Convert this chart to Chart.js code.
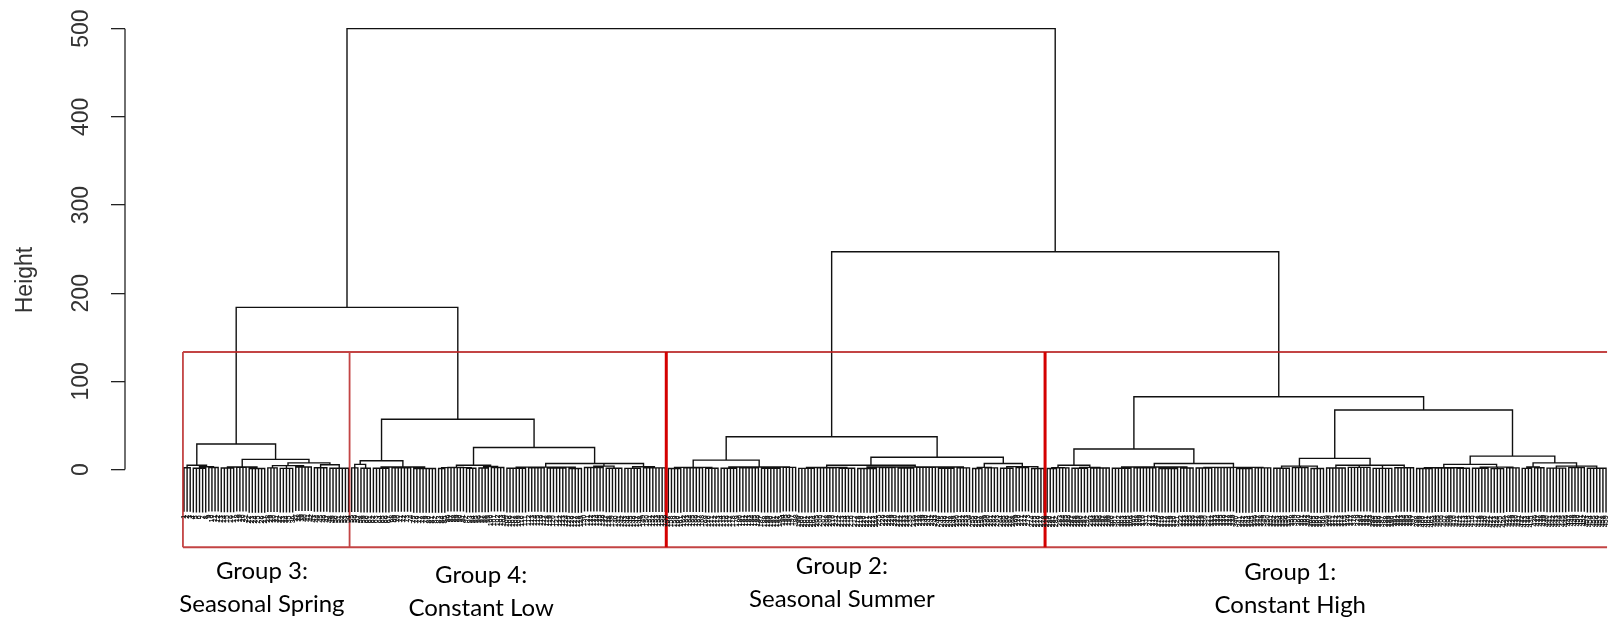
<!DOCTYPE html>
<html>
<head>
<meta charset="utf-8">
<script src="https://cdn.jsdelivr.net/npm/chart.js@4.4.1/dist/chart.umd.min.js"></script>
<style>
  html, body { margin: 0; padding: 0; background: #fff; }
  #wrap { width: 1611px; height: 621px; }
</style>
</head>
<body>
<div id="wrap"><canvas id="c" width="1611" height="621"></canvas></div>
<script>
// ---- Merge heights of the upper tree ----
const rootHeight = 500;
const groups34Height = 184;   // Group 3 + Group 4
const groups21Height = 247;   // Group 2 + Group 1

// ---- Cluster subtrees ----
// A node is [mergeHeight, child, child, ...].
// A plain number n inside a node means n leaves joined directly at that node's height.
const group3 = [29.1,
  [5, [2.2, 3], [3.2, [1.5, 5], [2.4, 4]]],
  [11.6,
    [3, [1.8, 5], [2.6, 4], [1.2, 6]],
    [7.7, [4.5, [2, 4], [1.4, 5], [3, 6]], [5.5, [2.2, 5], [1.6, 7]]]]];

const group4 = [57.1,
  [10, [6, [2, 3], [1.5, 4]], [3, [1.5, 6], [2.2, 7], [1.2, 8]]],
  [25,
    [5, [2.3, [1.2, 3], [2.5, 6], [1.5, 4]], [3.5, [1.8, 4], [2.4, 5]]],
    [7, [2.8, [1.5, 7], [2.2, 6], [1.8, 7], [1.2, 5]],
        [4, [2.4, 7], [1.6, 6]],
        [3.2, [1.4, 6], [2, 8]]]]];

const group2 = [37.3,
  [10.8,
    [2.5, [1.2, 5], [2, 7], [1.5, 5]],
    [3, [1.6, 6], [2.2, 7], [1.4, 7], [2.6, 5]]],
  [14,
    [5, [2.4, [1.4, 6], [2, 7], [1.6, 6]],
        [3, [1.2, 7], [2.3, 6], [1.7, 6], [2.5, 7], [1.4, 6], [2, 5]]],
    [7, [2.6, [1.3, 4], [2, 5]], [3.4, [1.6, 5], [2.4, 5], [1.2, 5]]]]];

const group1 = [82.7,
  [23.3,
    [5, [2.2, [1.3, 4], [2, 4]], [2.6, [1.5, 6], [1.9, 7]]],
    [7, [3, [1.5, 7], [2.2, 8], [1.3, 7], [1.9, 5]],
        [2.6, [1.8, 6], [2.4, 7], [1.2, 6], [2, 6]]]],
  [67.6,
    [12.7, [4, [1.6, 6], [2.3, 6], [1.2, 5]],
           [5, [1.8, 7], [2.5, 8], [1.4, 7], [2.1, 7]]],
    [15.3,
      [6, [2.2, [1.3, 6], [1.9, 7], [1.5, 5]], [2.8, [1.6, 6], [1.1, 5], [2, 5]]],
      [7.7, [3, [1.4, 4], [2.2, 4]], [4, [1.7, 7], [2.3, 6], [1.5, 7]]]]]];

// Left-to-right order of the cut groups
const groupOrder = [group3, group4, group2, group1];
const groupTitles = ['Group 3:', 'Group 4:', 'Group 2:', 'Group 1:'];
const groupNames = ['Seasonal Spring', 'Constant Low', 'Seasonal Summer', 'Constant High'];

const yTicks = [0, 100, 200, 300, 400, 500];
const hang = 50;          // leaves hang this far below their merge
const boxFloor = -88;     // lower edge of the group rectangles

// ---- Layout (kept apart from the values) ----
const labelLayout = {
  at: [26.1, 96.7, 212.9, 357.3],   // label centres along the leaf axis
  dy: [22, 26, 17, 23],             // first line below the plot, px
  lineGap: 33
};

// ---- Build the dendrogram geometry ----
const fullTree = [rootHeight, [groups34Height, group3, group4], [groups21Height, group2, group1]];

function buildTree(node, st, out) {
  const h = node[0];
  const kids = [];
  for (let i = 1; i < node.length; i++) {
    const k = node[i];
    if (typeof k === 'number') {
      for (let j = 0; j < k; j++) {
        const leaf = { x: st.next++, top: h };
        out.leaves.push(leaf);
        kids.push({ x: leaf.x, top: h - hang });
      }
    } else {
      kids.push(buildTree(k, st, out));
    }
  }
  const first = kids[0], last = kids[kids.length - 1];
  out.lines.push([{ x: first.x, y: first.top }, { x: first.x, y: h }, { x: last.x, y: h }, { x: last.x, y: last.top }]);
  for (let i = 1; i < kids.length - 1; i++) {
    out.lines.push([{ x: kids[i].x, y: h }, { x: kids[i].x, y: kids[i].top }]);
  }
  return { x: (first.x + last.x) / 2, top: h };
}

const geo = { lines: [], leaves: [] };
buildTree(fullTree, { next: 1 }, geo);

function joinPaths(paths) {
  const pts = [];
  paths.forEach(p => { p.forEach(q => pts.push(q)); pts.push({ x: p[p.length - 1].x, y: null }); });
  return pts;
}

// Leaf count per group gives the rectangle edges (rect.hclust style)
function countLeaves(node) {
  let n = 0;
  for (let i = 1; i < node.length; i++) n += (typeof node[i] === 'number') ? node[i] : countLeaves(node[i]);
  return n;
}
const groupSizes = groupOrder.map(countLeaves);
const cutHeight = (groups34Height + group1[0]) / 2;
const edges = [];
let acc = 0;
edges.push(acc + 0.66);
groupSizes.forEach(s => { acc += s; edges.push(acc + 0.33); });

const boxPaths = [
  [{ x: edges[0], y: cutHeight }, { x: edges[edges.length - 1], y: cutHeight }],
  [{ x: edges[0], y: boxFloor }, { x: edges[edges.length - 1], y: boxFloor }],
  [{ x: edges[0], y: cutHeight }, { x: edges[0], y: boxFloor }],
  [{ x: edges[1], y: cutHeight }, { x: edges[1], y: boxFloor }]
];
const strongDividers = [
  [{ x: edges[2], y: cutHeight }, { x: edges[2], y: boxFloor }],
  [{ x: edges[3], y: cutHeight }, { x: edges[3], y: boxFloor }]
];

// ---- Extra drawing: R-style y axis, leaf labels, group captions ----
const dendroDecor = {
  id: 'dendroDecor',
  afterDatasetsDraw(chart) {
    const { ctx } = chart;
    const xs = chart.scales.x, ys = chart.scales.y;
    ctx.save();
    // leaf labels
    ctx.fillStyle = '#151515';
    ctx.font = 'bold 7px "Liberation Sans", Arial, sans-serif';
    ctx.textAlign = 'right';
    ctx.textBaseline = 'middle';
    geo.leaves.forEach((lf, i) => {
      const px = xs.getPixelForValue(lf.x);
      const py = ys.getPixelForValue(lf.top - hang) + 3;
      ctx.save();
      ctx.translate(px, py);
      ctx.rotate(-Math.PI / 2);
      ctx.fillText(String(i + 1), 0, 0);
      ctx.restore();
    });
    ctx.restore();
  },
  afterDraw(chart) {
    const { ctx, chartArea } = chart;
    const xs = chart.scales.x, ys = chart.scales.y;
    ctx.save();
    // axis line spanning the tick range only
    const ax = ys.right;
    ctx.strokeStyle = '#222';
    ctx.lineWidth = 1.3;
    ctx.beginPath();
    ctx.moveTo(ax, ys.getPixelForValue(yTicks[0]));
    ctx.lineTo(ax, ys.getPixelForValue(yTicks[yTicks.length - 1]));
    ctx.stroke();
    // rotated tick labels
    ctx.fillStyle = '#333';
    ctx.font = '23px "Liberation Sans", Arial, sans-serif';
    ctx.textAlign = 'center';
    ctx.textBaseline = 'middle';
    ys.ticks.forEach(t => {
      ctx.save();
      ctx.translate(ax - 43, ys.getPixelForValue(t.value));
      ctx.rotate(-Math.PI / 2);
      ctx.fillText(String(t.value), 0, 0);
      ctx.restore();
    });
    // group captions
    ctx.fillStyle = '#000';
    ctx.font = '24px Lato, "Open Sans", sans-serif';
    groupTitles.forEach((t, i) => {
      const px = xs.getPixelForValue(labelLayout.at[i]);
      const py = chartArea.bottom + labelLayout.dy[i];
      ctx.fillText(t, px, py);
      ctx.fillText(groupNames[i], px, py + labelLayout.lineGap);
    });
    ctx.restore();
  }
};

new Chart(document.getElementById('c'), {
  type: 'scatter',
  data: {
    datasets: [
      {
        data: joinPaths(strongDividers),
        showLine: true, spanGaps: false, pointRadius: 0,
        borderColor: '#d40000', borderWidth: 3, clip: false, order: 0
      },
      {
        data: joinPaths(boxPaths),
        showLine: true, spanGaps: false, pointRadius: 0,
        borderColor: 'rgba(185,35,35,0.85)', borderWidth: 1.8, clip: false, order: 1
      },
      {
        data: joinPaths(geo.lines),
        showLine: true, spanGaps: false, pointRadius: 0,
        borderColor: '#111', borderWidth: 1.4, borderJoinStyle: 'miter',
        clip: false, order: 2
      }
    ]
  },
  options: {
    responsive: false,
    animation: false,
    devicePixelRatio: 1,
    events: [],
    layout: { padding: { top: 11, bottom: 72, left: 0, right: 0 } },
    plugins: { legend: { display: false }, tooltip: { enabled: false } },
    scales: {
      x: {
        type: 'linear',
        display: false,
        min: 1 - 19,
        max: 1 - 19 + 478.6
      },
      y: {
        type: 'linear',
        min: -90,
        max: 520,
        afterBuildTicks: s => { s.ticks = yTicks.map(v => ({ value: v })); },
        afterFit: s => { s.width = 125; },
        border: { display: false },
        grid: { drawOnChartArea: false, drawTicks: true, tickLength: 14, color: '#222', lineWidth: 1.3 },
        ticks: { display: false },
        title: {
          display: true,
          text: 'Height',
          color: '#333',
          font: { family: '"Liberation Sans", Arial, sans-serif', size: 23 },
          padding: { top: 12, bottom: 0 }
        }
      }
    }
  },
  plugins: [dendroDecor]
});
</script>
</body>
</html>
